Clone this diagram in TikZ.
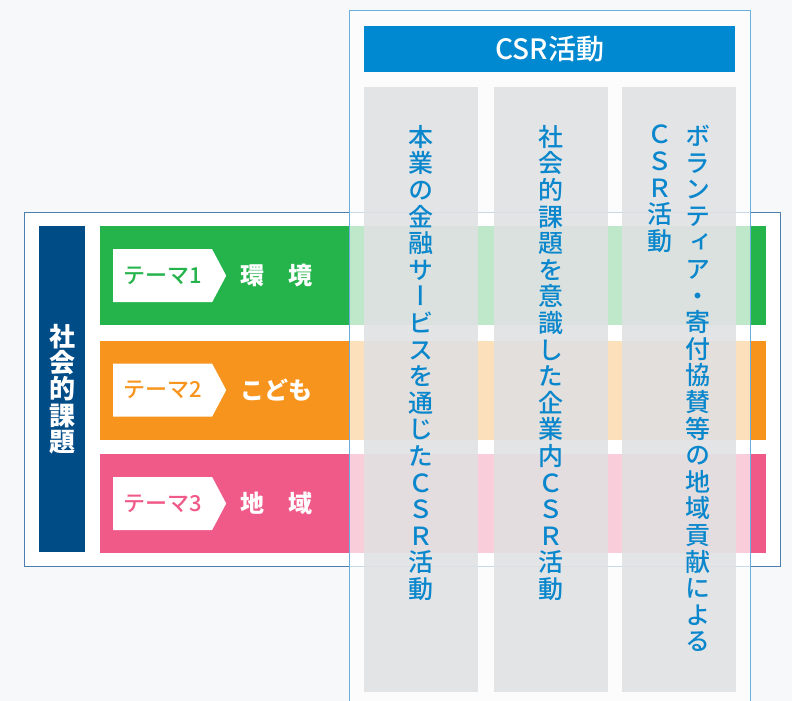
\documentclass[tikz,border=0pt]{standalone}
\usepackage{fontspec}
\setmainfont{Noto Sans CJK JP}
\newfontfamily\jpm{Noto Sans CJK JP Medium}
\newfontfamily\jpv[RawFeature=+vert]{Noto Sans CJK JP Medium}
\usetikzlibrary{positioning, shapes.symbols}

\definecolor{kankyo}{HTML}{25B34B}
\definecolor{kodomo}{HTML}{F7941D}
\definecolor{chiiki}{HTML}{F05A88}
\definecolor{shakai}{HTML}{004C87}
\definecolor{csrblue}{HTML}{0089D0}
\definecolor{colgray}{HTML}{DFE0E2}
\definecolor{coltext}{HTML}{0A87CC}
\definecolor{frameL}{HTML}{4A7FB0}
\definecolor{frameR}{HTML}{6AAFDD}
\definecolor{paper}{HTML}{F7F8FA}

\tikzset{
  band/.style={fill=#1, minimum width=666pt, minimum height=99pt, inner sep=0pt, anchor=north west},
  tag/.style={signal, signal to=east, signal pointer angle=124, fill=white, text=#1, minimum width=113pt, minimum height=53pt, inner sep=0pt, font=\jpm\fontsize{22}{22}\selectfont},
  theme/.style={text=white, inner sep=0pt, font=\bfseries\fontsize{24}{24}\selectfont},
  csrcol/.style={fill=colgray, fill opacity=0.85, minimum width=114pt, minimum height=605pt, inner sep=0pt, anchor=north west},
  tate/.style={text=coltext, align=center, inner sep=0pt, font=\jpv\fontsize{25}{26.6}\selectfont}
}

\begin{document}
\begin{tikzpicture}[x=1pt, y=-1pt]
  \useasboundingbox (0,0) rectangle (792,701);
  \clip (0,0) rectangle (792,701);
  \fill[paper] (0,0) rectangle (792,701);

  % social issues
  \draw[frameL, fill=white, line width=1pt] (24,212) rectangle (780,566);
  \node[fill=shakai, minimum width=46pt, minimum height=326pt, inner sep=0pt, anchor=north west] (kadai) at (39,226) {};
  \node[text=white, align=center, inner sep=0pt, font=\bfseries\fontsize{26}{26.4}\selectfont] (kadaiText) at (kadai) {社\\会\\的\\課\\題};

  \node[band=kankyo] (band1) at (100,226) {};
  \node[band=kodomo, below=15pt of band1] (band2) {};
  \node[band=chiiki, below=14pt of band2] (band3) {};

  \node[tag=kankyo, anchor=west] (tag1) at ([xshift=13pt]band1.west) {テーマ1};
  \node[tag=kodomo, anchor=west] (tag2) at ([xshift=13pt]band2.west) {テーマ2};
  \node[tag=chiiki, anchor=west] (tag3) at ([xshift=13pt]band3.west) {テーマ3};

  \node[theme, right=14pt of tag1] (theme1) {環　境};
  \node[theme, right=14pt of tag2] (theme2) {こども};
  \node[theme, right=14pt of tag3] (theme3) {地　域};

  % CSR activities
  \draw[frameR, fill=white, fill opacity=0.7, line width=1pt] (349,11) rectangle (750,720);
  \node[fill=csrblue, text=white, minimum width=371pt, minimum height=46pt, inner sep=0pt, anchor=north west, font=\jpm\fontsize{28}{28}\selectfont] (csr) at (364,26) {CSR活動};

  \node[csrcol] (col1) at (364,87) {};
  \node[csrcol, right=15pt of col1] (col2) {};
  \node[csrcol, right=14pt of col2] (col3) {};

  \node[tate, below=38pt of col1.north] (honbu) {本\\業\\の\\金\\融\\サ\\ー\\ビ\\ス\\を\\通\\じ\\た\\Ｃ\\Ｓ\\Ｒ\\活\\動};
  \node[tate, below=38pt of col2.north] (kigyo) {社\\会\\的\\課\\題\\を\\意\\識\\し\\た\\企\\業\\内\\Ｃ\\Ｓ\\Ｒ\\活\\動};
  \node[tate, below=38pt of col3.north, xshift=19pt] (volA) {ボ\\ラ\\ン\\テ\\ィ\\ア\\・\\寄\\付\\協\\賛\\等\\の\\地\\域\\貢\\献\\に\\よ\\る};
  \node[tate, below=38pt of col3.north, xshift=-19pt] (volB) {Ｃ\\Ｓ\\Ｒ\\活\\動};
\end{tikzpicture}
\end{document}
